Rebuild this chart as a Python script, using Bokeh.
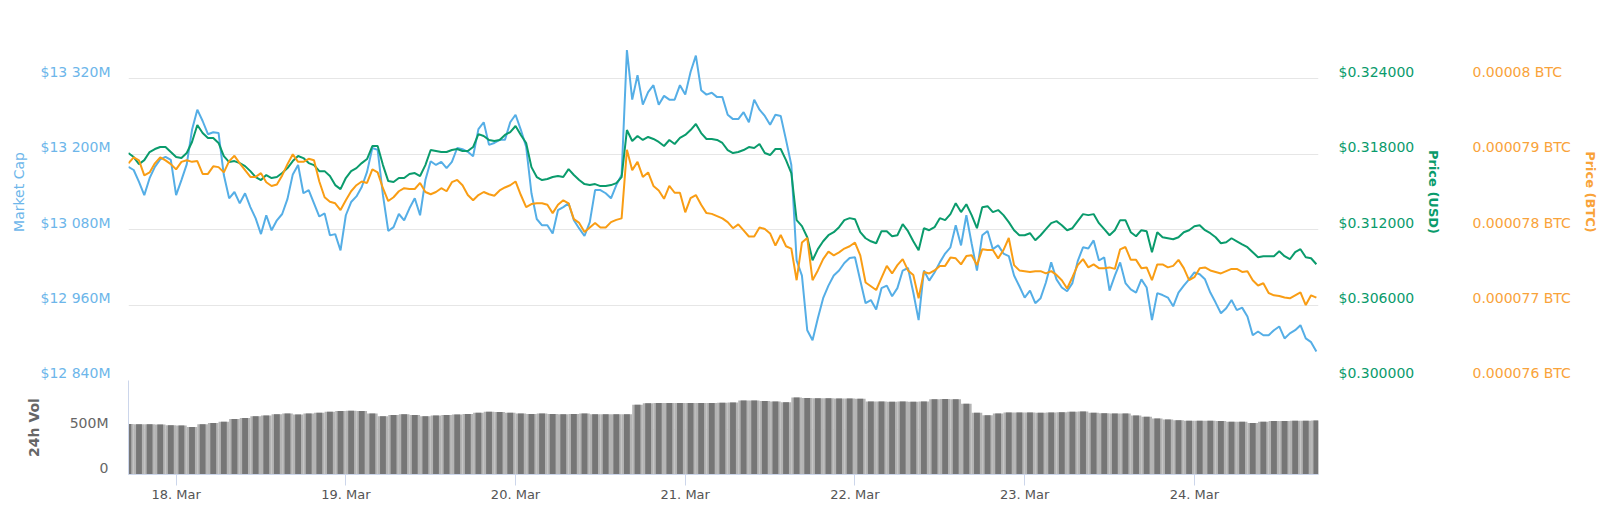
import pandas as pd
from bokeh.plotting import figure
from bokeh.models import (Range1d, LinearAxis, FixedTicker, CustomJSTickFormatter,
                          PrintfTickFormatter, Grid, DaysTicker, DatetimeTickFormatter, DatetimeAxis)
from bokeh.layouts import column
from bokeh.embed import file_html
from bokeh.resources import INLINE

# ---------------- data ----------------
# price series every 45 minutes, volume every 90 minutes
times = pd.date_range("2019-03-17 17:15", periods=225, freq="45min")
vol_times = pd.date_range("2019-03-17 17:15", periods=113, freq="90min")

market_cap_musd = [
    13180, 13175, 13156, 13135, 13162, 13180, 13192, 13196, 13191, 13135,
    13159, 13184, 13239, 13271, 13253, 13232, 13235, 13234, 13167, 13130,
    13140, 13122, 13138, 13116, 13098, 13073, 13103, 13079, 13095, 13105,
    13129, 13168, 13183, 13138, 13143, 13122, 13101, 13106, 13071, 13073,
    13047, 13103, 13124, 13133, 13148, 13172, 13210, 13207, 13135, 13078,
    13084, 13105, 13095, 13114, 13130, 13103, 13159, 13189, 13183, 13188,
    13178, 13188, 13210, 13208, 13204, 13197, 13240, 13251, 13215, 13218,
    13223, 13223, 13251, 13263, 13239, 13212, 13138, 13097, 13087, 13087,
    13074, 13111, 13116, 13122, 13095, 13082, 13070, 13092, 13143, 13143,
    13138, 13130, 13151, 13167, 13366, 13287, 13326, 13279, 13299, 13310,
    13279, 13293, 13287, 13287, 13310, 13295, 13331, 13357, 13302, 13295,
    13298, 13291, 13291, 13263, 13256, 13256, 13267, 13251, 13287, 13271,
    13261, 13247, 13263, 13261, 13223, 13183, 13031, 13007, 12920, 12904,
    12939, 12971, 12991, 13007, 13015, 13027, 13035, 13036, 12999, 12963,
    12968, 12953, 12987, 12991, 12974, 12987, 13015, 13019, 12980, 12936,
    13015, 12999, 13012, 13028, 13042, 13052, 13087, 13055, 13103, 13058,
    13015, 13071, 13078, 13049, 13055, 13042, 13038, 13007, 12990, 12972,
    12983, 12963, 12971, 12996, 13028, 13001, 12988, 12982, 12995, 13030,
    13052, 13050, 13063, 13031, 13036, 12983, 13007, 13028, 12995, 12985,
    12980, 13001, 12988, 12936, 12979, 12976, 12972, 12958, 12980, 12991,
    13001, 13012, 13009, 13001, 12980, 12964, 12947, 12955, 12968, 12952,
    12956, 12942, 12912, 12918, 12912, 12912, 12920, 12926, 12907, 12915,
    12920, 12928, 12907, 12901, 12886]

price_usd = [
    0.31810, 0.31778, 0.31722, 0.31754, 0.31818, 0.31842, 0.31858, 0.31858, 0.31818, 0.31778,
    0.31770, 0.31810, 0.31898, 0.32033, 0.31969, 0.31930, 0.31930, 0.31890, 0.31786, 0.31738,
    0.31746, 0.31730, 0.31706, 0.31666, 0.31619, 0.31595, 0.31635, 0.31611, 0.31619, 0.31651,
    0.31690, 0.31746, 0.31786, 0.31770, 0.31730, 0.31714, 0.31666, 0.31666, 0.31627, 0.31555,
    0.31523, 0.31611, 0.31666, 0.31690, 0.31730, 0.31762, 0.31866, 0.31866, 0.31714, 0.31587,
    0.31579, 0.31611, 0.31611, 0.31643, 0.31651, 0.31627, 0.31714, 0.31834, 0.31826, 0.31818,
    0.31818, 0.31834, 0.31842, 0.31826, 0.31826, 0.31858, 0.31961, 0.31946, 0.31914, 0.31906,
    0.31914, 0.31954, 0.31977, 0.32025, 0.31954, 0.31890, 0.31698, 0.31619, 0.31595, 0.31603,
    0.31619, 0.31627, 0.31619, 0.31682, 0.31635, 0.31595, 0.31563, 0.31555, 0.31563, 0.31547,
    0.31547, 0.31555, 0.31571, 0.31619, 0.31993, 0.31906, 0.31946, 0.31914, 0.31938, 0.31922,
    0.31898, 0.31866, 0.31914, 0.31882, 0.31930, 0.31954, 0.31993, 0.32041, 0.31969, 0.31922,
    0.31922, 0.31914, 0.31890, 0.31834, 0.31810, 0.31818, 0.31834, 0.31858, 0.31850, 0.31882,
    0.31810, 0.31794, 0.31842, 0.31842, 0.31754, 0.31651, 0.31276, 0.31228, 0.31140, 0.30957,
    0.31045, 0.31108, 0.31156, 0.31180, 0.31220, 0.31276, 0.31292, 0.31284, 0.31180, 0.31132,
    0.31108, 0.31092, 0.31188, 0.31188, 0.31148, 0.31156, 0.31244, 0.31188, 0.31108, 0.31037,
    0.31212, 0.31196, 0.31220, 0.31292, 0.31276, 0.31324, 0.31411, 0.31340, 0.31403, 0.31316,
    0.31212, 0.31379, 0.31387, 0.31340, 0.31356, 0.31316, 0.31260, 0.31196, 0.31156, 0.31156,
    0.31172, 0.31116, 0.31156, 0.31204, 0.31252, 0.31268, 0.31236, 0.31196, 0.31212, 0.31268,
    0.31324, 0.31316, 0.31324, 0.31252, 0.31204, 0.31156, 0.31196, 0.31276, 0.31276, 0.31180,
    0.31148, 0.31196, 0.31188, 0.31021, 0.31180, 0.31140, 0.31132, 0.31124, 0.31140, 0.31180,
    0.31196, 0.31228, 0.31236, 0.31196, 0.31172, 0.31140, 0.31092, 0.31100, 0.31132, 0.31108,
    0.31084, 0.31061, 0.31021, 0.30981, 0.30989, 0.30989, 0.30989, 0.31029, 0.30989, 0.30965,
    0.31021, 0.31045, 0.30981, 0.30973, 0.30925]

# price in satoshi (1 sat = 0.00000001 BTC)
price_btc_sat = [
    7888, 7896, 7892, 7872, 7876, 7888, 7896, 7892, 7887, 7880,
    7890, 7892, 7890, 7891, 7874, 7874, 7884, 7883, 7876, 7891,
    7898, 7888, 7879, 7870, 7870, 7875, 7863, 7858, 7860, 7872,
    7887, 7900, 7890, 7890, 7894, 7892, 7864, 7843, 7837, 7835,
    7826, 7839, 7851, 7859, 7864, 7862, 7880, 7876, 7855, 7838,
    7843, 7851, 7855, 7854, 7854, 7862, 7850, 7847, 7850, 7855,
    7851, 7863, 7866, 7859, 7846, 7839, 7846, 7850, 7847, 7845,
    7852, 7856, 7859, 7864, 7846, 7830, 7834, 7835, 7835, 7833,
    7822, 7833, 7839, 7835, 7814, 7809, 7797, 7803, 7809, 7803,
    7803, 7810, 7813, 7815, 7906, 7879, 7890, 7870, 7876, 7858,
    7852, 7841, 7858, 7849, 7849, 7823, 7842, 7846, 7833, 7822,
    7821, 7818, 7815, 7810, 7802, 7807, 7799, 7791, 7791, 7803,
    7801, 7795, 7779, 7793, 7778, 7775, 7733, 7783, 7789, 7733,
    7746, 7761, 7771, 7766, 7770, 7775, 7778, 7783, 7766, 7730,
    7725, 7720, 7736, 7752, 7742, 7753, 7761, 7746, 7740, 7709,
    7744, 7742, 7746, 7752, 7752, 7763, 7762, 7754, 7765, 7766,
    7753, 7774, 7773, 7773, 7762, 7773, 7789, 7753, 7746, 7745,
    7744, 7745, 7745, 7742, 7745, 7740, 7733, 7722, 7737, 7753,
    7761, 7750, 7754, 7749, 7749, 7750, 7748, 7774, 7777, 7760,
    7760, 7749, 7750, 7733, 7754, 7754, 7750, 7752, 7760, 7749,
    7733, 7737, 7749, 7750, 7746, 7744, 7742, 7745, 7748, 7748,
    7744, 7745, 7733, 7726, 7729, 7716, 7713, 7712, 7710, 7709,
    7713, 7717, 7700, 7713, 7710]

volume_musd = [
    565, 560, 560, 558, 550, 548, 530, 560, 575, 590,
    620, 630, 650, 660, 674, 680, 670, 680, 690, 700,
    710, 712, 710, 680, 650, 665, 674, 665, 650, 660,
    665, 670, 675, 690, 700, 698, 690, 680, 675, 680,
    675, 672, 675, 680, 674, 674, 672, 674, 780, 795,
    800, 800, 800, 798, 800, 800, 802, 805, 826, 826,
    820, 815, 808, 860, 855, 851, 851, 850, 850, 845,
    815, 815, 812, 815, 812, 815, 840, 844, 840, 790,
    690, 663, 680, 692, 692, 692, 690, 692, 695, 700,
    705, 690, 685, 680, 680, 660, 645, 625, 615, 605,
    600, 600, 600, 598, 590, 590, 575, 590, 598, 598,
    600, 600, 602]

mc_ticks = [12840, 12960, 13080, 13200, 13320]
usd_ticks = [0.300, 0.306, 0.312, 0.318, 0.324]
btc_ticks = [0.000076, 0.000077, 0.000078, 0.000079, 0.000080]
vol_ticks = [0, 500]

price_btc = [s / 1e8 for s in price_btc_sat]

# ---------------- styling ----------------
BLUE = "#55aee6"
GREEN = "#0a9b6c"
ORANGE = "#f99d14"
BLUE_TXT = "#6db6ea"
ORANGE_TXT = "#f9a33a"
GRID = "#e6e6e6"
AXIS = "#ccd6eb"
FONT = "DejaVu Sans"

FRAME_H = 377          # main plot frame height (px)
VOL_FRAME_H = 94       # volume frame height (px)
LAB_SHIFT = 7          # labels sit this many px above their grid line

mc_rng = (12840, 13440)
usd_rng = (0.300, 0.330)
btc_rng = (0.000076, 0.000081)
vol_rng = (0, 1050)


def shifted(r, frame_h):
    d = (r[1] - r[0]) * LAB_SHIFT / frame_h
    return Range1d(r[0] - d, r[1] - d)


xr = Range1d(pd.Timestamp("2019-03-17 17:16"), pd.Timestamp("2019-03-24 17:33"))

p = figure(width=1600, height=380, x_range=xr, y_range=Range1d(*mc_rng),
           x_axis_type="datetime", x_axis_location=None, y_axis_location=None,
           title_location=None,
           toolbar_location=None, output_backend="svg",
           min_border_left=128, min_border_right=280, min_border_top=3, min_border_bottom=0,
           outline_line_color=None, background_fill_color="white")
p.xgrid.visible = False
p.ygrid.visible = False

p.extra_y_ranges = {
    "usd": Range1d(*usd_rng),
    "btc": Range1d(*btc_rng),
    "mc_lab": shifted(mc_rng, FRAME_H),
    "usd_lab": shifted(usd_rng, FRAME_H),
    "btc_lab": shifted(btc_rng, FRAME_H),
}

p.add_layout(Grid(dimension=1, ticker=FixedTicker(ticks=mc_ticks + [13440]),
                  grid_line_color=GRID, grid_line_width=1))

p.line(times, market_cap_musd, line_color=BLUE, line_width=2)
p.line(times, price_usd, line_color=GREEN, line_width=2, y_range_name="usd")
p.line(times, price_btc, line_color=ORANGE, line_width=2, y_range_name="btc")


def style_axis(ax, label_color, title_color, standoff, title_standoff,
               bold=False, title_size="14px"):
    ax.axis_line_color = None
    ax.major_tick_line_color = None
    ax.minor_tick_line_color = None
    ax.major_tick_in = 0
    ax.major_tick_out = 0
    ax.minor_tick_in = 0
    ax.minor_tick_out = 0
    ax.major_label_standoff = standoff
    ax.axis_label_standoff = title_standoff
    ax.major_label_text_color = label_color
    ax.major_label_text_font = FONT
    ax.major_label_text_font_size = "14px"
    ax.axis_label_text_color = title_color
    ax.axis_label_text_font = FONT
    ax.axis_label_text_font_size = title_size
    ax.axis_label_text_font_style = "bold" if bold else "normal"


ax_mc = LinearAxis(y_range_name="mc_lab", ticker=FixedTicker(ticks=mc_ticks),
                   formatter=CustomJSTickFormatter(code="""
                       const s = Math.round(tick).toString();
                       return '$' + s.slice(0, s.length - 3) + ' ' + s.slice(-3) + 'M';"""),
                   axis_label="Market Cap")
style_axis(ax_mc, BLUE_TXT, BLUE_TXT, 18, 11)
p.add_layout(ax_mc, "left")

ax_usd = LinearAxis(y_range_name="usd_lab", ticker=FixedTicker(ticks=usd_ticks),
                    formatter=PrintfTickFormatter(format="$%.6f"),
                    axis_label="Price (USD)")
style_axis(ax_usd, GREEN, GREEN, 20, 9, bold=True, title_size="13px")
p.add_layout(ax_usd, "right")

ax_btc = LinearAxis(y_range_name="btc_lab", ticker=FixedTicker(ticks=btc_ticks),
                    formatter=CustomJSTickFormatter(code="""
                        return parseFloat(tick.toFixed(7)).toString() + ' BTC';"""),
                    axis_label="Price (BTC)")
style_axis(ax_btc, ORANGE_TXT, ORANGE_TXT, 28, 9, bold=True, title_size="13px")
p.add_layout(ax_btc, "right")

# ---------------- volume panel ----------------
v = figure(width=1600, height=132, x_range=xr, y_range=Range1d(*vol_rng),
           x_axis_type="datetime", x_axis_location=None, y_axis_location=None,
           title_location=None,
           toolbar_location=None, output_backend="svg",
           min_border_left=128, min_border_right=280, min_border_top=0, min_border_bottom=38,
           outline_line_color=None, background_fill_color="white")
v.xgrid.visible = False
v.ygrid.visible = False
v.extra_y_ranges = {"vol_lab": shifted(vol_rng, VOL_FRAME_H)}

v.add_layout(Grid(dimension=1, ticker=FixedTicker(ticks=[500, 1050]),
                  grid_line_color=GRID, grid_line_width=1))

step_ms = pd.Timedelta("90min").total_seconds() * 1000
v.vbar(x=vol_times, top=volume_musd, width=step_ms, bottom=0,
       fill_color="#b4b4b4", line_color=None)
v.vbar(x=vol_times, top=volume_musd, width=step_ms * 0.55, bottom=0,
       fill_color="#767676", line_color=None)

ax_vol = LinearAxis(y_range_name="vol_lab", ticker=FixedTicker(ticks=vol_ticks),
                    formatter=CustomJSTickFormatter(code="return tick == 0 ? '0' : tick + 'M';"),
                    axis_label="24h Vol")
style_axis(ax_vol, "#666666", "#666666", 20, 25, bold=True)
ax_vol.axis_line_color = AXIS
ax_vol.axis_line_width = 1
v.add_layout(ax_vol, "left")

ax_x = DatetimeAxis(ticker=DaysTicker(days=list(range(1, 32))),
                    formatter=DatetimeTickFormatter(days="%d. %b", months="%d. %b", hours="%d. %b"))
ax_x.axis_line_color = AXIS
ax_x.major_tick_line_color = AXIS
ax_x.minor_tick_line_color = None
ax_x.major_tick_in = 0
ax_x.major_tick_out = 11
ax_x.major_label_standoff = 1
ax_x.major_label_text_color = "#555555"
ax_x.major_label_text_font = FONT
ax_x.major_label_text_font_size = "13px"
v.add_layout(ax_x, "below")

layout = column(p, v, spacing=0)

open("out.html", "w").write(file_html(layout, INLINE))
